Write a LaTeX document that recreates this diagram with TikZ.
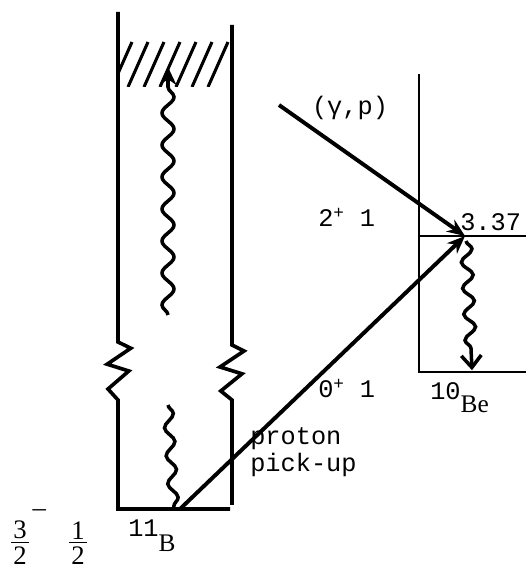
\documentclass[tikz,border=0pt]{standalone}
\usepackage{fontspec}
\setmainfont{Liberation Mono}
\newfontfamily\elfont{Liberation Serif}
\usetikzlibrary{arrows.meta,decorations.pathmorphing}

\begin{document}
\begin{tikzpicture}[
  wall/.style={line width=2.6pt},
  thinwall/.style={line width=2pt},
  beam/.style={line width=2.8pt,-{Stealth[length=0.45cm,width=0.36cm]}},
  photon/.style={line width=2.5pt,decorate,
    decoration={snake,amplitude=0.15cm,segment length=0.8cm,post length=0.4cm}},
  frac/.style={font=\elfont\fontsize{19}{22}\selectfont},
  every node/.style={font=\fontsize{18}{21}\selectfont,inner sep=0pt}]
\useasboundingbox (0,0) rectangle (13.15,14.225);
% 11B levels with broken walls
\draw[wall] (2.95,13.925) -- (2.95,5.675) -- (3.27,5.52) -- (2.68,5.12)
  -- (3.22,4.95) -- (2.7,4.5) -- (2.95,4.225) -- (2.95,1.5) -- (5.75,1.5);
\draw[wall] (5.8,13.6) -- (5.8,5.6) -- (6.1,5.45) -- (5.5,5.05)
  -- (6.05,4.88) -- (5.52,4.45) -- (5.8,4.225) -- (5.8,1.6);
% continuum (hatched)
\begin{scope}
\clip (2.95,12.05) rectangle (5.8,13.2);
\foreach \k in {0,...,6}
  \draw[line width=2.2pt] (2.8+0.4*\k,12.05) -- ++(0.5,1.125);
\end{scope}
\coordinate (gnd) at (4.5,1.5);
\coordinate (gin) at (6.975,11.6);
\coordinate (ex) at (11.625,8.325);
\draw[photon,-{Stealth[length=0.45cm,width=0.42cm]}] (4.2,6.35) -- (4.2,12.55);
\draw[photon,decoration={amplitude=0.12cm,segment length=0.7cm,post length=0cm}]
  (4.2,4.1) -- (4.35,1.5);
% 10Be levels
\draw[thinwall] (10.475,12.375) -- (10.475,4.925) -- (13.15,4.925);
\draw[thinwall] (10.475,8.325) -- (13.15,8.325);
\draw[photon,decoration={amplitude=0.14cm,segment length=0.65cm,post length=0.35cm},
  -{Straight Barb[length=0.3cm,width=0.5cm]}] (11.65,8.2) -- (11.8,4.97);
% reactions
\draw[beam] (gin) -- (ex);
\draw[beam] (gnd) -- (ex);
% labels
\node (gp) at (8.75,11.525) {(γ,p)};
\node[anchor=base west] (j2) at (7.95,8.55) {2\textsuperscript{+} 1};
\node[anchor=base west] (e1) at (11.5,8.45) {3.37};
\node[anchor=base west] (j0) at (7.95,4.275) {0\textsuperscript{+} 1};
\node[anchor=base west] (be) at (10.75,4.225) {10\raisebox{-9pt}{\elfont Be}};
\node[anchor=base west] (b11) at (3.2,0.8) {11\raisebox{-10pt}{\elfont B}};
% spin and isospin of the 11B ground state
\node[frac] (n3) at (0.5,0.97) {3};
\node[frac] (d2) at (0.5,0.34) {2};
\draw[line width=0.8pt] (0.28,0.665) -- (0.72,0.665);
\node[frac] (neg) at (0.98,1.4) {–};
\node[frac] (n1) at (1.95,0.97) {1};
\node[frac] (d1) at (1.95,0.34) {2};
\draw[line width=0.8pt] (1.73,0.665) -- (2.17,0.665);
\node[anchor=base west] (pu1) at (6.25,3.1) {proton};
\node[anchor=base west] (pu2) at (6.25,2.425) {pick-up};
\end{tikzpicture}
\end{document}
